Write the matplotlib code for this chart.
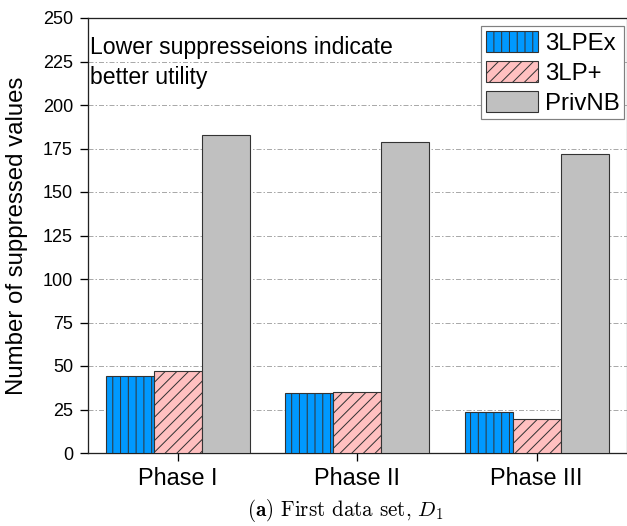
import numpy as np
import matplotlib
matplotlib.use("Agg")
import matplotlib.pyplot as plt

# Data
phases = ["Phase I", "Phase II", "Phase III"]
series_names = ["3LPEx", "3LP+", "PrivNB"]
vals_3lpex = [44, 34.5, 23.5]
vals_3lpplus = [47, 35, 19.5]
vals_privnb = [183, 179, 172]
yticks = [0, 25, 50, 75, 100, 125, 150, 175, 200, 225, 250]

DPI = 140
W, H = 627, 526


def pt(px):
    """Convert a size in output pixels to points."""
    return px * 72.0 / DPI


plt.rcParams["font.family"] = ["Liberation Sans", "DejaVu Sans"]
plt.rcParams["mathtext.fontset"] = "cm"
plt.rcParams["hatch.linewidth"] = pt(1.0)
plt.rcParams["lines.scale_dashes"] = False

fig = plt.figure(figsize=(W / DPI, H / DPI), dpi=DPI)
ax = fig.add_axes([88 / W, 73 / H, 538.5 / W, 435 / H])

x = np.arange(len(phases))
bw = 0.267
colors = ["#0099FF", "#FFC0C0", "#C0C0C0"]
hatches = ["|||", "////", ""]
edge = "#333333"
for i, (vals, name) in enumerate(zip([vals_3lpex, vals_3lpplus, vals_privnb], series_names)):
    ax.bar(x + (i - 1) * bw, vals, bw, color=colors[i], edgecolor=edge,
           hatch=hatches[i], linewidth=pt(1.1), label=name, zorder=3)

ax.set_xlim(-0.5, 2.5)
ax.set_ylim(0, 250)
ax.set_yticks(yticks)
ax.set_xticks(x)
ax.set_xticklabels(phases, fontsize=pt(23.5))
ax.tick_params(axis="y", labelsize=pt(18), direction="out", length=pt(8),
               width=pt(1.3), pad=pt(7))
ax.tick_params(axis="x", direction="out", length=pt(8), width=pt(1.3), pad=pt(6))
for s in ax.spines.values():
    s.set_linewidth(pt(1.3))
    s.set_color("#222222")
ax.spines["right"].set_color("#888888")

ax.yaxis.grid(True, color="#aaaaaa", linewidth=pt(1.0),
              dashes=(pt(5), pt(2), pt(1.5), pt(2)), zorder=0)
ax.set_axisbelow(True)

ax.set_ylabel("Number of suppressed values", fontsize=pt(24))
ax.yaxis.set_label_coords(-0.112, 0.5)

ax.text(0.004, 0.917, "Lower suppresseions indicate", transform=ax.transAxes,
        fontsize=pt(23), va="baseline", ha="left")
ax.text(0.004, 0.848, "better utility", transform=ax.transAxes,
        fontsize=pt(23), va="baseline", ha="left")

leg = ax.legend(loc="upper right", bbox_to_anchor=(0.996, 0.982), fontsize=pt(24),
                handlelength=2.15, handleheight=1.0, labelspacing=0.25, handletextpad=0.3,
                borderpad=0.2, borderaxespad=0, fancybox=False, framealpha=1,
                edgecolor="#808080")
leg.get_frame().set_linewidth(pt(1.2))

fig.text(345 / W, 1 - 511 / H, r"$\mathbf{(a)}$ First data set, $D_1$",
         fontsize=pt(21), ha="center", va="center", family="cmr10")

fig.savefig("out.png", dpi=DPI)
